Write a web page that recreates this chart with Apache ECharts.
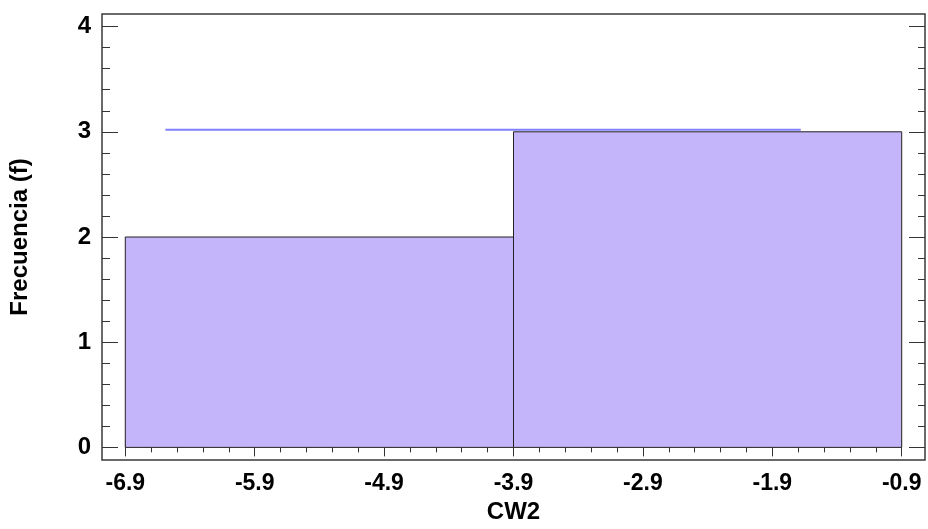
<!DOCTYPE html>
<html>
<head>
<meta charset="utf-8">
<script src="https://cdn.jsdelivr.net/npm/echarts@6/dist/echarts.min.js"></script>
<style>
  html, body { margin: 0; padding: 0; background: #fff; }
  #chart { width: 928px; height: 529px; }
</style>
</head>
<body>
<div id="chart"></div>
<script>
// Histogram of CW2: class limits and counts
const binStarts = [-6.9, -3.9];
const binEnds = [-3.9, -0.9];
const counts = [2, 3];

// Fitted reference line (x, frequency)
const fitX = [-6.59, -1.68];
const fitY = [3.02, 3.02];

// Axis ranges and tick positions
const xRange = [-7.08, -0.72];
const yRange = [-0.12, 4.12];
const xMajorTicks = [-6.9, -5.9, -4.9, -3.9, -2.9, -1.9, -0.9];
const xMinorTicks = [-6.7, -6.5, -6.3, -6.1, -5.7, -5.5, -5.3, -5.1, -4.7, -4.5, -4.3, -4.1,
                     -3.7, -3.5, -3.3, -3.1, -2.7, -2.5, -2.3, -2.1, -1.7, -1.5, -1.3, -1.1];
const yMajorTicks = [0, 1, 2, 3, 4];
const yMinorTicks = [0.2, 0.4, 0.6, 0.8, 1.2, 1.4, 1.6, 1.8, 2.2, 2.4, 2.6, 2.8, 3.2, 3.4, 3.6, 3.8];

const xTitle = 'CW2';
const yTitle = 'Frecuencia (f)';

const FONT = "'Liberation Sans', Arial, sans-serif";
const TICK_COLOR = '#333';

function xAxisDef(position, ticks, len, labels) {
  return {
    type: 'value', position: position, min: xRange[0], max: xRange[1],
    axisLine: { show: false },
    splitLine: { show: false },
    axisTick: { show: true, inside: true, length: len, customValues: ticks,
                lineStyle: { color: TICK_COLOR, width: 1 } },
    axisLabel: labels ? {
      show: true, customValues: ticks, margin: 12,
      fontFamily: FONT, fontWeight: 'bold', fontSize: 23, color: '#000',
      formatter: v => v.toFixed(1)
    } : { show: false }
  };
}

function yAxisDef(position, ticks, len, labels) {
  return {
    type: 'value', position: position, min: yRange[0], max: yRange[1],
    axisLine: { show: false },
    splitLine: { show: false },
    axisTick: { show: true, inside: true, length: len, customValues: ticks,
                lineStyle: { color: TICK_COLOR, width: 1 } },
    axisLabel: labels ? {
      show: true, customValues: ticks, margin: 11,
      fontFamily: FONT, fontWeight: 'bold', fontSize: 24, color: '#000',
      formatter: v => String(Math.round(v))
    } : { show: false }
  };
}

const xAxes = [
  xAxisDef('bottom', xMajorTicks, 8, true),
  xAxisDef('bottom', xMinorTicks, 5, false),
  xAxisDef('top', xMajorTicks, 9, false),
  xAxisDef('top', xMinorTicks, 5, false)
];
Object.assign(xAxes[0], {
  name: xTitle, nameLocation: 'middle', nameGap: 40,
  nameTextStyle: { fontFamily: FONT, fontWeight: 'bold', fontSize: 24, color: '#000' }
});

const yAxes = [
  yAxisDef('left', yMajorTicks, 16, true),
  yAxisDef('left', yMinorTicks, 8, false),
  yAxisDef('right', yMajorTicks, 16, false),
  yAxisDef('right', yMinorTicks, 7, false)
];
Object.assign(yAxes[0], {
  name: yTitle, nameLocation: 'middle', nameGap: 70, nameRotate: 90,
  nameTextStyle: { fontFamily: FONT, fontWeight: 'bold', fontSize: 24, color: '#000' }
});

const binData = binStarts.map((s, i) => [s, binEnds[i], counts[i]]);
const fitData = fitX.map((x, i) => [x, fitY[i]]);

const chart = echarts.init(document.getElementById('chart'), null, { renderer: 'canvas' });
chart.setOption({
  animation: false,
  backgroundColor: '#fff',
  grid: {
    left: 102, right: 3, top: 14, bottom: 65,
    show: true, borderColor: '#3a3a3a', borderWidth: 1.5, backgroundColor: 'transparent'
  },
  xAxis: xAxes,
  yAxis: yAxes,
  series: [
    {
      type: 'custom',
      xAxisIndex: 0, yAxisIndex: 0,
      data: binData,
      encode: { x: [0, 1], y: 2 },
      renderItem: function (params, api) {
        const topLeft = api.coord([api.value(0), api.value(2)]);
        const bottomRight = api.coord([api.value(1), 0]);
        return {
          type: 'rect',
          shape: {
            x: topLeft[0], y: topLeft[1],
            width: bottomRight[0] - topLeft[0],
            height: bottomRight[1] - topLeft[1]
          },
          style: { fill: '#c4b5fa', stroke: '#222', lineWidth: 1 }
        };
      },
      z: 2
    },
    {
      type: 'line',
      xAxisIndex: 0, yAxisIndex: 0,
      data: fitData,
      showSymbol: false,
      lineStyle: { color: '#7f7fff', width: 2 },
      z: 3
    }
  ]
});
</script>
</body>
</html>
